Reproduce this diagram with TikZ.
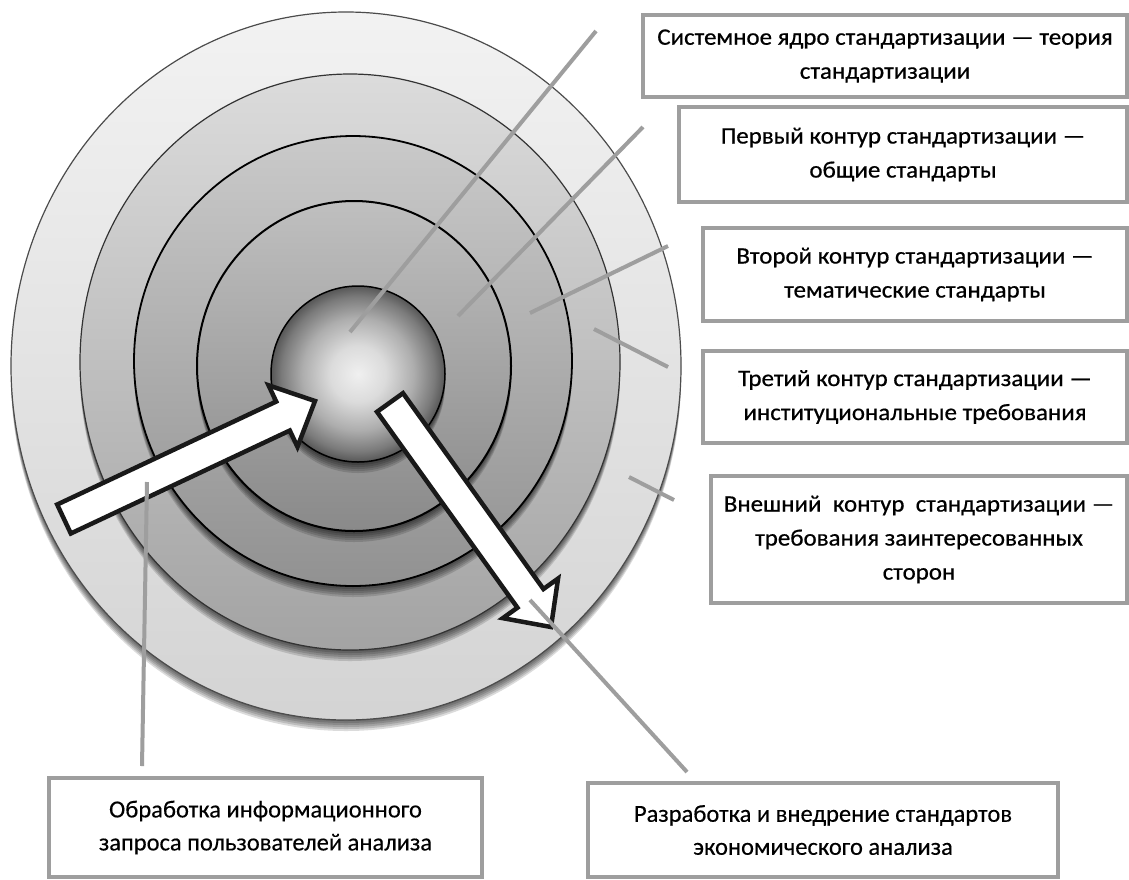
\documentclass[tikz,border=0pt]{standalone}
\usepackage{fontspec}
\setmainfont{Carlito}
\newfontfamily\wfont[FakeStretch=1.06,FakeBold=0.6]{Carlito}
\newfontfamily\bfontx[FakeBold=0.3]{Carlito}
\usetikzlibrary{calc}
\definecolor{boxgray}{gray}{0.62}
\definecolor{leadgray}{gray}{0.62}
\definecolor{arrowblack}{gray}{0.1}
\tikzset{
  rbox/.style={draw=boxgray, line width=4pt, fill=white, align=center, inner sep=0pt,
    font=\wfont\fontsize{23.5}{34}\selectfont},
  bbox/.style={draw=boxgray, line width=4pt, fill=white, align=center, inner sep=0pt,
    font=\bfontx\fontsize{24.5}{33}\selectfont},
  leader/.style={draw=leadgray, line width=4pt},
  arrowbox/.style={draw=arrowblack, fill=white, line width=4.5pt, line join=miter},
  ringline/.style={draw=black, line width=#1},
}
\newcommand\softshadow[3]{%
  \foreach \d in {1,3,5,7,9,11}{\fill[black,opacity=0.14] ($(#1)+(0,\d)$) ellipse [x radius=#2, y radius=#3];}}
\newcommand\blockarrow[3]{%
  \coordinate (ab) at ($(#1)!#3!(#2)$);
  \draw[arrowbox] ($(#1)!16pt!90:(#2)$) -- ($(ab)!16pt!-90:(#1)$) -- ($(ab)!34pt!-90:(#1)$) -- (#2)
     -- ($(ab)!34pt!90:(#1)$) -- ($(ab)!16pt!90:(#1)$) -- ($(#1)!16pt!-90:(#2)$) -- cycle;}
\pgfdeclareradialshading{coreshade}{\pgfpoint{0bp}{0bp}}{%
  color(0bp)=(black!6); color(8bp)=(black!14); color(16bp)=(black!32); color(22bp)=(black!52); color(25bp)=(black!66); color(50bp)=(black!66)}
\begin{document}
\begin{tikzpicture}[x=1pt,y=-1pt]
\useasboundingbox (0,0) rectangle (1129,879);
\fill[white] (0,0) rectangle (1129,879);

% centres
\coordinate (c0) at (346,366);
\coordinate (c1) at (350,362);
\coordinate (c2) at (353,361);
\coordinate (c3) at (354,366);
\coordinate (c4) at (358,374);

% outer ring
\softshadow{c0}{335pt}{354pt}
\shade[top color=black!5, bottom color=black!17] (c0) ellipse [x radius=335pt, y radius=354pt];
\draw[draw=black!70, line width=1.2pt] (c0) ellipse [x radius=335pt, y radius=354pt];
% ring 2
\softshadow{c1}{270pt}{288pt}
\shade[top color=black!14, bottom color=black!36] (c1) ellipse [x radius=270pt, y radius=288pt];
\draw[draw=black!80, line width=1.2pt] (c1) ellipse [x radius=270pt, y radius=288pt];
% ring 3
\softshadow{c2}{219pt}{225pt}
\shade[top color=black!21, bottom color=black!43] (c2) ellipse [x radius=219pt, y radius=225pt];
\draw[ringline=1.8pt] (c2) ellipse [x radius=219pt, y radius=225pt];
% ring 4
\softshadow{c3}{157pt}{165pt}
\shade[top color=black!25, bottom color=black!46] (c3) ellipse [x radius=157pt, y radius=165pt];
\draw[ringline=2pt] (c3) ellipse [x radius=157pt, y radius=165pt];
% core
\softshadow{c4}{87pt}{88pt}
\shade[shading=coreshade] (c4) ellipse [x radius=87pt, y radius=88pt];
\draw[ringline=1.5pt] (c4) ellipse [x radius=87pt, y radius=88pt];

% block arrows
\coordinate (a1t) at (64,519);
\coordinate (a1p) at (315,401);
\blockarrow{a1t}{a1p}{242pt}
\coordinate (a2t) at (390,402.5);
\coordinate (a2p) at (551,627);
\blockarrow{a2t}{a2p}{241pt}

% boxes
\node[rbox, minimum width=484pt, minimum height=82pt] (b1) at (885,56)
  {Системное ядро стандартизации — теория\\стандартизации};
\node[rbox, minimum width=448pt, minimum height=95pt] (b2) at (903,154.5)
  {Первый контур стандартизации —\\общие стандарты};
\node[rbox, minimum width=424pt, minimum height=93pt] (b3) at (915,274.5)
  {Второй контур стандартизации —\\тематические стандарты};
\node[rbox, minimum width=424pt, minimum height=92pt] (b4) at (915,397)
  {Третий контур стандартизации —\\институциональные требования};
\node[rbox, minimum width=416pt, minimum height=127pt] (b5) at (919,539.5)
  {Внешний\ \ контур\ \ стандартизации —\\требования заинтересованных\\сторон};
\node[bbox, minimum width=433pt, minimum height=99pt] (bl) at (265.5,827.5)
  {Обработка информационного\\запроса пользователей анализа};
\node[bbox, minimum width=470pt, minimum height=94pt] (br) at (823,830)
  {Разработка и внедрение стандартов\\экономического анализа};

% leader lines
\coordinate (l1a) at (350,332); \coordinate (l1b) at (596,31);
\coordinate (l2a) at (458,316); \coordinate (l2b) at (643,127);
\coordinate (l3a) at (530,313); \coordinate (l3b) at (668,246);
\coordinate (l4a) at (594,329); \coordinate (l4b) at (668,367);
\coordinate (l5a) at (629,477); \coordinate (l5b) at (674,500);
\coordinate (l6a) at (147,482); \coordinate (l6b) at (142,766);
\coordinate (l7a) at (530,600); \coordinate (l7b) at (687,772);
\draw[leader] (l1a) -- (l1b);
\draw[leader] (l2a) -- (l2b);
\draw[leader] (l3a) -- (l3b);
\draw[leader] (l4a) -- (l4b);
\draw[leader] (l5a) -- (l5b);
\draw[leader] (l6a) -- (l6b);
\draw[leader] (l7a) -- (l7b);
\end{tikzpicture}
\end{document}
